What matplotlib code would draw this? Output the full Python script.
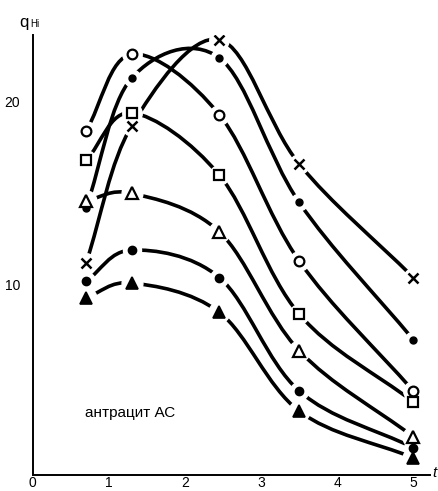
import numpy as np
import matplotlib
matplotlib.use("Agg")
import matplotlib.pyplot as plt
from matplotlib.path import Path
from matplotlib.patches import PathPatch

# ---- data ----
t = [0.7, 1.3, 2.45, 3.5, 5.0]
q_cross = [11.2, 18.7, 23.4, 16.6, 10.4]
q_dot_up = [14.2, 21.3, 22.4, 14.5, 7.0]
q_circle = [18.4, 22.6, 19.3, 11.3, 4.2]
q_square = [16.8, 19.4, 16.0, 8.4, 3.6]
q_tri = [14.6, 15.0, 12.9, 6.4, 1.7]
q_dot_low = [10.2, 11.9, 10.4, 4.2, 1.1]
q_tri_fill = [9.3, 10.1, 8.5, 3.1, 0.55]
x_ticks = [0, 1, 2, 3, 4, 5]
y_ticks = [10, 20]

series = [
    (q_cross, dict(marker="x", ms=7, mew=1.8, mfc="none")),
    (q_dot_up, dict(marker="o", ms=5, mew=1.0, mfc="black")),
    (q_circle, dict(marker="o", ms=7, mew=1.6, mfc="white")),
    (q_square, dict(marker="s", ms=7, mew=1.6, mfc="white")),
    (q_tri, dict(marker="^", ms=8, mew=1.6, mfc="white")),
    (q_dot_low, dict(marker="o", ms=6, mew=1.0, mfc="black")),
    (q_tri_fill, dict(marker="^", ms=8, mew=1.2, mfc="black")),
]

fig = plt.figure(figsize=(4.38, 4.91), dpi=100)
ax = fig.add_axes([0.075, 0.033, 0.907, 0.896])
ax.set_xlim(0, 5.22)
ax.set_ylim(-0.38, 23.66)

sx, sy = 5.22, 24.0 * 0.9  # scale for shaping splines


def smooth_path(xs, ys):
    p = np.column_stack([np.asarray(xs) / sx, np.asarray(ys) / sy])
    pts = np.vstack([2 * p[0] - p[1], p, 2 * p[-1] - p[-2]])
    verts = [tuple(p[0])]
    codes = [Path.MOVETO]
    for i in range(1, len(pts) - 2):
        p0, p1, p2, p3 = pts[i - 1], pts[i], pts[i + 1], pts[i + 2]
        c1 = p1 + (p2 - p0) / 6.0
        c2 = p2 - (p3 - p1) / 6.0
        verts += [tuple(c1), tuple(c2), tuple(p2)]
        codes += [Path.CURVE4] * 3
    v = np.array(verts)
    v[:, 0] *= sx
    v[:, 1] *= sy
    return Path(v, codes)


for ys, st in series:
    ax.add_patch(PathPatch(smooth_path(t, ys), fc="none", ec="black",
                           lw=2.6, capstyle="round", zorder=2))
    # white halo to break the line near markers
    ax.plot(t, ys, ls="none", marker="o", ms=st["ms"] + 7, mfc="white",
            mec="white", zorder=3)
    ax.plot(t, ys, ls="none", color="black", mec="black", zorder=4, **st)

for s in ["top", "right"]:
    ax.spines[s].set_visible(False)
for s in ["left", "bottom"]:
    ax.spines[s].set_linewidth(1.4)

ax.set_xticks(x_ticks)
ax.set_yticks(y_ticks)
ax.tick_params(length=0, labelsize=10)
ax.tick_params(axis="x", pad=1)
ax.tick_params(axis="y", pad=9)
for lab in ax.get_xticklabels() + ax.get_yticklabels():
    lab.set_family("Liberation Sans")

fig.text(0.043, 0.955, "q", fontsize=12, family="Liberation Sans", ha="left", va="center")
fig.text(0.068, 0.951, "Hi", fontsize=7, family="Liberation Sans", ha="left", va="center")
fig.text(0.992, 0.036, "t", fontsize=11, style="italic", family="Liberation Sans",
         ha="center", va="center")
ax.text(0.68, 3.0, "антрацит АС", fontsize=11, family="Liberation Sans",
        ha="left", va="center")

fig.savefig("out.png", dpi=100)
